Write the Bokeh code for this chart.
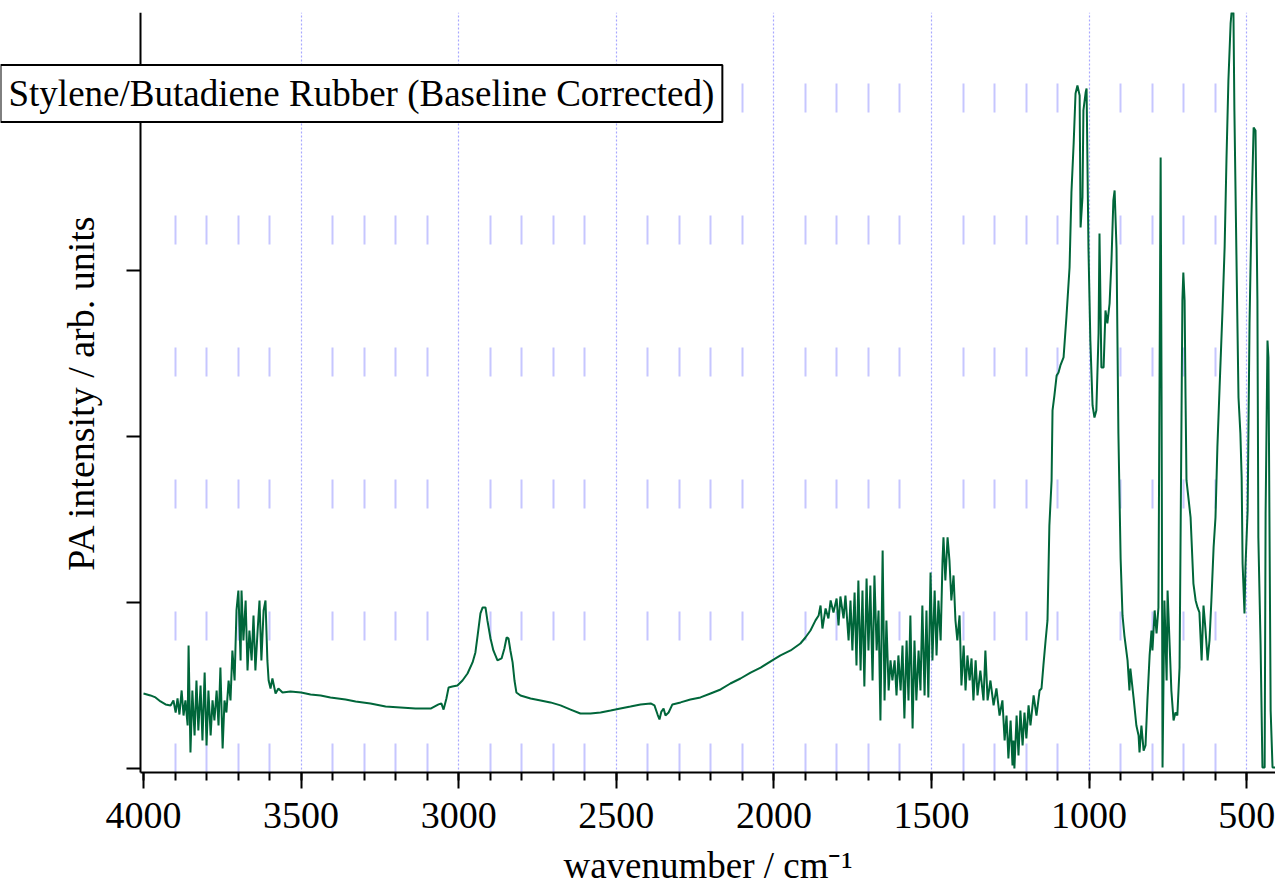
from bokeh.plotting import figure
from bokeh.models import (Range1d, SingleIntervalTicker, FixedTicker, Grid, Label,
                          LinearAxis, BoxAnnotation)
from bokeh.embed import file_html
from bokeh.resources import INLINE

# ---------------- data ----------------
wavenumber = [
    4000, 3978, 3962, 3946, 3930, 3914, 3905, 3898, 3892, 3886, 3879, 3873, 3867, 3860, 3857,
    3851, 3845, 3838, 3832, 3826, 3819, 3813, 3806, 3800, 3794, 3787, 3781, 3775, 3768, 3762,
    3756, 3749, 3743, 3737, 3730, 3724, 3718, 3711, 3705, 3699, 3692, 3689, 3683, 3676, 3670,
    3664, 3657, 3651, 3645, 3638, 3632, 3626, 3619, 3613, 3607, 3603, 3597, 3591, 3581, 3572,
    3559, 3534, 3500,
    3470, 3438, 3407, 3359, 3327, 3280, 3232, 3185, 3137, 3089, 3064, 3055, 3048, 3039, 3032,
    3020, 3004, 2988, 2972, 2956, 2947, 2940, 2931, 2924, 2915, 2909, 2899, 2890, 2877, 2864,
    2855, 2848, 2842, 2836, 2829, 2823, 2817, 2804, 2772, 2740, 2709, 2677, 2645, 2614, 2582,
    2550, 2518, 2487, 2455, 2423, 2391, 2379, 2369, 2363, 2357, 2350, 2344, 2334, 2322, 2296,
    2265, 2233, 2201, 2169, 2138, 2106, 2074, 2042, 2000, 1979, 1947, 1916, 1900, 1884, 1868,
    1858, 1852, 1846, 1836, 1827, 1820, 1811, 1801, 1795, 1789, 1779, 1773, 1763, 1757, 1751,
    1744, 1738, 1732, 1725, 1719, 1713, 1706, 1700, 1694, 1687, 1681, 1674, 1668, 1662, 1655,
    1649, 1643, 1636, 1630, 1624, 1617, 1611, 1605, 1598, 1592, 1586, 1579, 1573, 1567, 1560,
    1554, 1548, 1541, 1535, 1529, 1522, 1516, 1510, 1503, 1497, 1490, 1484, 1478, 1471, 1465,
    1462, 1456, 1449, 1443, 1437, 1430, 1424, 1418, 1411, 1405, 1398, 1392, 1386, 1379, 1373,
    1367, 1360, 1354, 1345, 1335, 1329, 1322, 1313, 1303, 1294, 1284, 1275, 1268, 1262, 1256,
    1249, 1243, 1240, 1237, 1230, 1224, 1218, 1211, 1205, 1199, 1192, 1186, 1176, 1167, 1157,
    1151, 1145, 1138, 1132, 1126, 1119, 1116, 1110, 1103, 1097, 1091, 1081, 1072, 1062, 1056,
    1049, 1043, 1037, 1030, 1027, 1021, 1018, 1011, 1008, 1002, 996, 989, 983, 977, 970,
    967, 964, 961, 954, 948, 942, 935, 929, 923, 919, 913, 907, 900, 894, 888,
    878, 872, 869, 859, 850, 843, 840, 834, 827, 821, 815, 808, 802, 799, 792,
    786, 780, 773, 770, 767, 761, 754, 751, 745, 739, 732, 726, 720, 713, 710,
    704, 701, 697, 694, 691, 685, 678, 669, 662, 656, 650, 643, 637, 631, 624,
    618, 612, 605, 599, 593, 586, 577, 570, 564, 558, 551, 548, 542, 539, 532,
    526, 520, 516, 513, 507, 504, 497, 491, 485, 478, 472, 466, 463, 456, 450,
    443, 440, 434, 431, 424, 418, 409,
]
intensity = [
    0.452, 0.440, 0.428, 0.404, 0.386, 0.380, 0.410, 0.337, 0.422, 0.325, 0.470, 0.319, 0.410, 0.259, 0.741,
    0.096, 0.470, 0.199, 0.530, 0.229, 0.500, 0.169, 0.578, 0.139, 0.470, 0.199, 0.410, 0.289, 0.470, 0.259,
    0.608, 0.120, 0.410, 0.337, 0.530, 0.410, 0.711, 0.530, 0.952, 1.072, 0.651, 1.072, 0.771, 1.012, 0.590,
    0.831, 0.651, 0.922, 0.590, 0.831, 1.012, 0.651, 0.952, 1.012, 0.651, 0.530, 0.482, 0.542, 0.452, 0.482,
    0.458, 0.464, 0.458,
    0.446, 0.440, 0.428, 0.416, 0.404, 0.392, 0.373, 0.367, 0.361, 0.361, 0.386, 0.392, 0.355, 0.422, 0.488,
    0.494, 0.500, 0.530, 0.572, 0.639, 0.699, 0.801, 0.934, 0.970, 0.970, 0.892, 0.783, 0.711, 0.651, 0.663,
    0.723, 0.789, 0.783, 0.711, 0.639, 0.530, 0.458, 0.440, 0.422, 0.410, 0.398, 0.380, 0.355, 0.331, 0.331,
    0.337, 0.349, 0.361, 0.373, 0.386, 0.392, 0.380, 0.325, 0.295, 0.343, 0.361, 0.319, 0.337, 0.386, 0.398,
    0.416, 0.428, 0.452, 0.476, 0.512, 0.542, 0.578, 0.608, 0.657, 0.681, 0.711, 0.753, 0.789, 0.831, 0.892,
    0.922, 0.982, 0.843, 0.964, 0.904, 1.012, 0.940, 1.024, 0.861, 1.036, 0.904, 1.042, 0.771, 1.012, 0.711,
    1.060, 0.620, 1.133, 0.590, 1.072, 0.494, 1.145, 0.711, 1.102, 0.530, 1.163, 0.711, 0.952, 0.289, 1.313,
    0.410, 0.892, 0.470, 0.651, 0.530, 0.651, 0.440, 0.681, 0.470, 0.741, 0.301, 0.771, 0.410, 0.922, 0.241,
    0.771, 0.410, 0.711, 0.470, 0.982, 0.440, 0.952, 0.428, 1.181, 0.651, 1.072, 0.681, 1.012, 0.771, 1.253,
    1.392, 1.133, 1.392, 1.253, 1.012, 1.163, 0.892, 0.771, 0.922, 0.500, 0.741, 0.470, 0.681, 0.530, 0.663,
    0.410, 0.651, 0.440, 0.590, 0.410, 0.711, 0.410, 0.530, 0.380, 0.482, 0.319, 0.410, 0.169, 0.319, 0.060,
    0.289, 0.018, 0.169, 0.000, 0.319, 0.078, 0.349, 0.139, 0.337, 0.181, 0.380, 0.259, 0.440, 0.319, 0.470,
    0.482, 0.620, 0.771, 0.892, 1.464, 1.735, 2.157, 2.247, 2.367, 2.386, 2.428, 2.476, 2.717, 3.018, 3.470,
    3.765, 4.066, 4.114, 4.054, 3.259, 3.440, 3.964, 4.072, 4.096, 3.133, 2.578, 2.187, 2.114, 2.157, 2.620,
    3.223, 2.819, 2.416, 2.416, 2.759, 2.681, 2.801, 3.060, 3.422, 3.482, 3.133, 2.018, 1.265, 0.922, 0.801,
    0.651, 0.470, 0.602, 0.428, 0.259, 0.199, 0.096, 0.259, 0.108, 0.139, 0.410, 0.681, 0.831, 0.711, 0.952,
    0.813, 0.970, 3.681, 2.217, 0.006, 1.012, 0.530, 1.072, 0.771, 0.470, 0.289, 0.337, 0.319, 0.608, 1.331,
    2.819, 2.988, 2.819, 2.235, 1.735, 1.633, 1.512, 1.114, 1.012, 0.970, 0.940, 0.651, 0.982, 0.843, 0.651,
    0.771, 1.012, 1.331, 1.512, 1.934, 2.295, 2.747, 3.139, 3.681, 4.145, 4.488, 4.554, 4.554, 3.964, 3.018,
    2.235, 2.018, 1.753, 1.235, 0.934, 1.211, 1.554, 2.681, 3.319, 3.861, 3.843, 2.819, 1.392, 0.753, 0.006,
    0.006, 1.536, 2.578, 2.476, 0.349, 0.006, 0.006,
]

x_grid_major = [3500, 3000, 2500, 2000, 1500, 1000, 500]
x_grid_minor = [3900, 3800, 3700, 3600, 3400, 3300, 3200, 3100, 2900, 2800, 2700, 2600,
                2400, 2300, 2200, 2100, 1900, 1800, 1700, 1600, 1400, 1300, 1200, 1100,
                900, 800, 700, 600]
y_ticks = [0, 1, 2, 3, 4]

title_text = "Stylene/Butadiene Rubber (Baseline Corrected)"
x_label = "wavenumber / cm\u207b\u00b9"
y_label = "PA intensity / arb. units"

SERIF = "Liberation Serif"

X_AXIS_START, X_END = 4009.5, 408.6
Y_START, Y_END = -0.024, 4.554

p = figure(width=1275, height=889, output_backend="svg", toolbar_location=None,
           x_axis_location=None, y_axis_location=None,
           x_range=Range1d(4453.7, X_END), y_range=Range1d(-0.729, Y_END),
           min_border_left=0, min_border_right=0, min_border_top=12, min_border_bottom=0)
p.outline_line_color = None
p.background_fill_color = "white"
p.border_fill_color = "white"
p.xgrid.visible = False
p.ygrid.visible = False

# grids
minor_grid = Grid(dimension=0, ticker=FixedTicker(ticks=x_grid_minor),
                  grid_line_color="#c6c6ff", grid_line_width=2,
                  grid_line_dash="29 103", grid_line_dash_offset=15)
major_grid = Grid(dimension=0, ticker=FixedTicker(ticks=x_grid_major),
                  grid_line_color="#a8a8ff", grid_line_width=1.2, grid_line_dash="2 2")
p.add_layout(minor_grid)
p.add_layout(major_grid)
# keep the area under the x axis clear of grid lines
p.add_layout(BoxAnnotation(top=Y_START, fill_color="white", fill_alpha=1.0,
                           line_color=None, level="underlay"))

# x axis (drawn at the bottom of the data area)
xa = LinearAxis(fixed_location=Y_START, bounds=(X_END, X_AXIS_START),
                ticker=SingleIntervalTicker(interval=500, num_minor_ticks=5))
xa.axis_line_width = 2
xa.axis_line_color = "black"
xa.major_tick_line_width = 2
xa.major_tick_line_color = "black"
xa.major_tick_in = 0
xa.major_tick_out = 16
xa.minor_tick_line_width = 2
xa.minor_tick_line_color = "black"
xa.minor_tick_in = 0
xa.minor_tick_out = 8
xa.major_label_text_font = SERIF
xa.major_label_text_font_size = "38px"
xa.major_label_text_color = "black"
xa.major_label_standoff = 15
xa.axis_label = x_label
xa.axis_label_text_font = SERIF
xa.axis_label_text_font_size = "37px"
xa.axis_label_text_font_style = "normal"
xa.axis_label_text_color = "black"
xa.axis_label_standoff = 13
p.add_layout(xa, "below")

# y axis (drawn at 4009.5 cm-1)
ya = LinearAxis(fixed_location=X_AXIS_START, bounds=(Y_START, Y_END),
                ticker=FixedTicker(ticks=y_ticks, minor_ticks=[]))
ya.axis_line_width = 2
ya.axis_line_color = "black"
ya.major_tick_line_width = 2
ya.major_tick_line_color = "black"
ya.major_tick_in = 0
ya.major_tick_out = 14
ya.minor_tick_line_color = None
ya.major_label_text_color = None
ya.major_label_text_font_size = "1px"
ya.axis_label = y_label
ya.axis_label_text_font = SERIF
ya.axis_label_text_font_size = "38px"
ya.axis_label_text_font_style = "normal"
ya.axis_label_text_color = "black"
ya.axis_label_standoff = 25
p.add_layout(ya, "left")

# spectrum
p.line(wavenumber, intensity, line_color="#00663a", line_width=2)

# boxed title
title = Label(x=0, y=796, x_units="screen", y_units="screen", text=title_text,
              text_font=SERIF, text_font_size="37px", text_color="black",
              text_baseline="middle", text_align="left",
              background_fill_color="white", border_line_color="black",
              border_line_width=2, padding=8)
p.add_layout(title)

open("out.html", "w").write(file_html(p, INLINE))
